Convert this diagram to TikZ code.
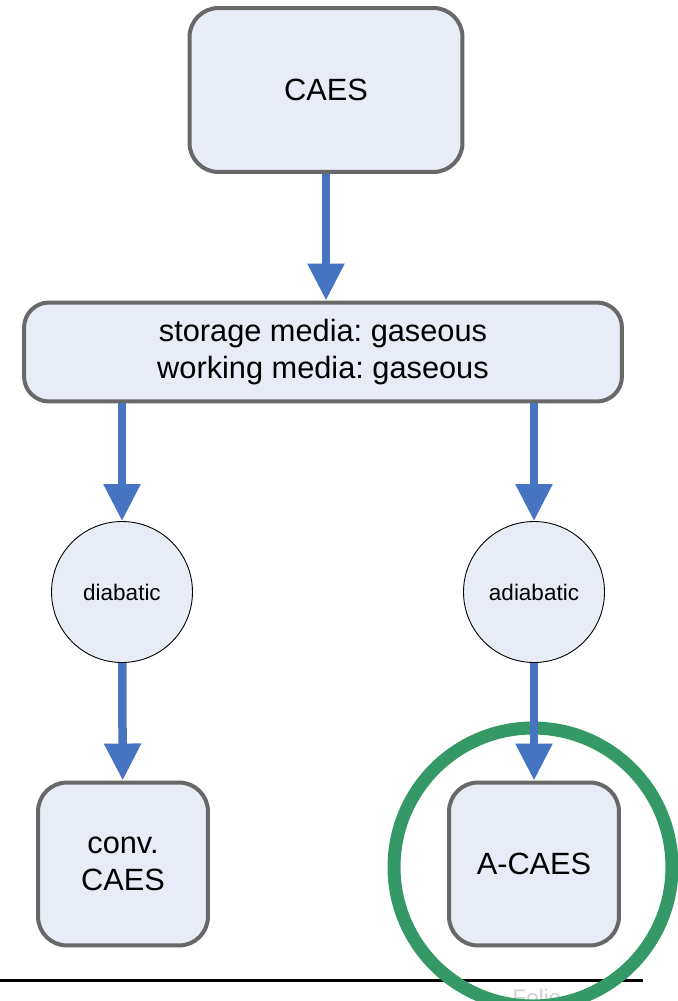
\documentclass[tikz,border=0pt]{standalone}
\usepackage{fontspec}
\setmainfont{Liberation Sans}
\usepackage{xcolor}
\definecolor{boxfill}{RGB}{232,236,247}
\definecolor{boxline}{RGB}{104,104,104}
\definecolor{arrblue}{RGB}{70,116,193}
\definecolor{markgreen}{RGB}{52,153,102}
\usetikzlibrary{arrows.meta}
\frenchspacing

\begin{document}
\begin{tikzpicture}[x=0.02cm,y=-0.02cm]
	\tikzstyle{box}=[draw=boxline,fill=boxfill,line width=0.08cm,rounded corners=0.58cm,align=center,inner sep=0pt,font=\fontsize{17.5}{21}\selectfont];
	\tikzstyle{kreis}=[draw=black,fill=boxfill,circle,line width=0.5pt,minimum size=2.82cm,inner sep=0pt,font=\fontsize{12.8}{15}\selectfont];
	\tikzstyle{pfeil}=[arrblue,line width=0.17cm,-{Triangle[width=0.7cm,length=0.74cm]}];
	\clip (0,0) rectangle (678,1001);
	% footer
	\draw[line width=0.06cm] (0,980) -- (643,980);
	\node[text=black!18,font=\fontsize{12.8}{15}\selectfont,anchor=north] (fuss) at (537,983) {Folie};
	\draw[markgreen,line width=0.26cm] (533,867) circle[radius=2.78cm];
	% nodes
	\node[box,minimum width=5.46cm,minimum height=3.28cm] (1) at (326,90) {CAES};
	\node[box,minimum width=11.96cm,minimum height=1.98cm,rounded corners=0.5cm] (2) at (323,352) {storage media: gaseous\\working media: gaseous};
	\node[kreis] (3) at (122,592) {diabatic};
	\node[kreis] (4) at (534,592) {adiabatic};
	\node[box,minimum width=3.4cm,minimum height=3.26cm] (5) at (123,864) {conv.\\CAES};
	\node[box,minimum width=3.4cm,minimum height=3.26cm] (6) at (534,864) {A-CAES};
	% arrows
	\draw[pfeil] (1) -- (1 |- 2.north);
	\draw[pfeil] (2.south -| 3) -- (3);
	\draw[pfeil] (2.south -| 4) -- (4);
	\draw[pfeil] (3) -- (5);
	\draw[pfeil] (4) -- (6);
\end{tikzpicture}
\end{document}
